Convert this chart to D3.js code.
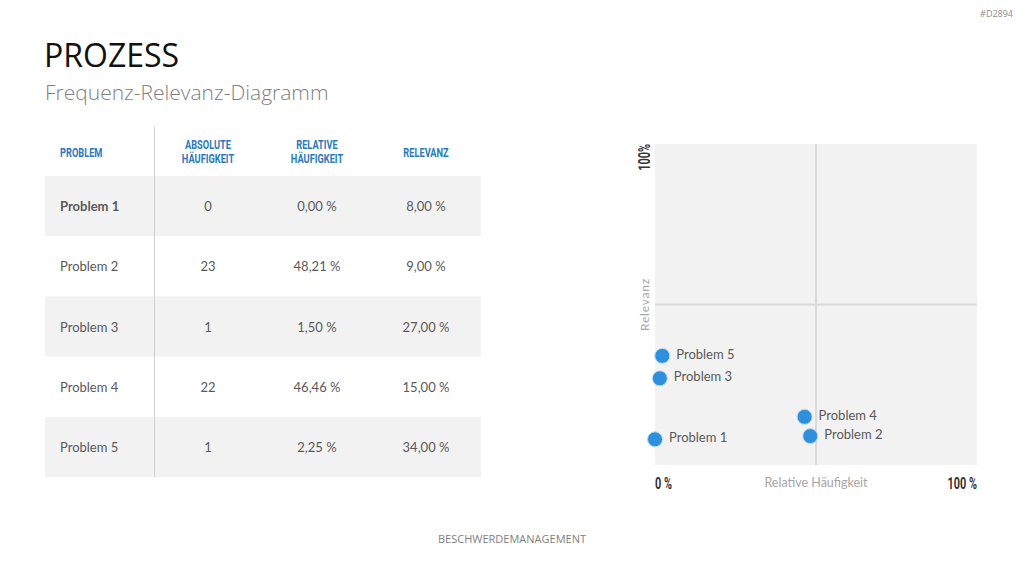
<!DOCTYPE html>
<html>
<head>
<meta charset="utf-8">
<script src="https://cdn.jsdelivr.net/npm/d3@7"></script>
<style>
  body { margin: 0; background: #fff; }
  svg { display: block; }
</style>
</head>
<body>
<script>
const [W, H] = [1024, 576];

// data
const problems = ['Problem 1', 'Problem 2', 'Problem 3', 'Problem 4', 'Problem 5'];
const absolute = [0, 23, 1, 22, 1];
const relative = [0.00, 48.21, 1.50, 46.46, 2.25];
const relevance = [8.00, 9.00, 27.00, 15.00, 34.00];
const headers = [['PROBLEM'], ['ABSOLUTE', 'HÄUFIGKEIT'], ['RELATIVE', 'HÄUFIGKEIT'], ['RELEVANZ']];

const fmtPct = v => v.toFixed(2).replace('.', ',') + ' %';
// no condensed font installed -> squeeze Roboto bold horizontally
const condensed = 'Roboto, "Liberation Sans", sans-serif';
const SQ = 0.68;
const body = '"Open Sans", "Noto Sans", sans-serif';
const small = 'Lato, "Open Sans", sans-serif';

const svg = d3.select('body').append('svg').attr('width', W).attr('height', H);

// header texts
svg.append('text').attr('x', 1013).attr('y', 17).attr('text-anchor', 'end')
    .style('font', '9px ' + body).style('fill', '#8c8c8c').text('#D2894');

svg.append('text').attr('x', 44).attr('y', 67)
    .style('font', '32px ' + body).style('fill', '#111').text('PROZESS');

svg.append('text').attr('x', 45).attr('y', 100)
    .style('font', '300 21px ' + body).style('fill', '#7f7f7f').text('Frequenz-Relevanz-Diagramm');

svg.append('text').attr('x', 512).attr('y', 543).attr('text-anchor', 'middle')
    .style('font', '11px ' + body).style('fill', '#7f7f7f').text('BESCHWERDEMANAGEMENT');

// table
const colX = d3.scaleOrdinal().domain([0, 1, 2, 3]).range([60, 208, 317, 426]);
const rowY = d3.scaleBand().domain(problems).range([176, 477]);
const table = svg.append('g');

table.selectAll('rect.row')
    .data(problems).enter()
    .filter((d, i) => i % 2 === 0)
    .append('rect')
    .attr('class', 'row')
    .attr('x', 45).attr('width', 436)
    .attr('y', d => rowY(d)).attr('height', rowY.bandwidth())
    .attr('fill', '#f2f2f2');

table.append('line')
    .attr('x1', 154.5).attr('x2', 154.5).attr('y1', 127).attr('y2', 477)
    .attr('stroke', '#cfcfcf').attr('stroke-width', 1);

const head = table.selectAll('text.head')
    .data(headers).enter()
    .append('text')
    .attr('class', 'head')
    .attr('text-anchor', (d, i) => i === 0 ? 'start' : 'middle')
    .attr('transform', (d, i) => 'translate(' + colX(i) + ',' + (d.length === 1 ? 157 : 148.5) + ') scale(0.74,1)')
    .style('font', 'bold 12.5px ' + condensed)
    .style('fill', '#2a78bf');
head.selectAll('tspan')
    .data(d => d).enter()
    .append('tspan')
    .attr('x', 0)
    .attr('dy', (d, i) => i === 0 ? 0 : 14.5)
    .text(d => d);

problems.forEach((p, i) => {
    const cells = [p, String(absolute[i]), fmtPct(relative[i]), fmtPct(relevance[i])];
    table.selectAll(null)
        .data(cells).enter()
        .append('text')
        .attr('x', (d, j) => colX(j))
        .attr('y', rowY(p) + rowY.bandwidth() / 2 + 5)
        .attr('text-anchor', (d, j) => j === 0 ? 'start' : 'middle')
        .style('font', (d, j) => (i === 0 && j === 0 ? 'bold ' : '') + '13px ' + small)
        .style('fill', '#595959')
        .text(d => d);
});

// scatter chart
const xScale = d3.scaleLinear().domain([0, 100]).range([655, 977]);
const yScale = d3.scaleLinear().domain([0, 100]).range([465, 144]);

const chart = svg.append('g');
chart.append('rect')
    .attr('x', xScale(0)).attr('y', yScale(100))
    .attr('width', xScale(100) - xScale(0)).attr('height', yScale(0) - yScale(100))
    .attr('fill', '#f2f2f2');

chart.append('line')
    .attr('x1', xScale(50)).attr('x2', xScale(50)).attr('y1', yScale(100)).attr('y2', yScale(0))
    .attr('stroke', '#d9d9d9').attr('stroke-width', 2);
chart.append('line')
    .attr('x1', xScale(0)).attr('x2', xScale(100)).attr('y1', yScale(50)).attr('y2', yScale(50))
    .attr('stroke', '#d9d9d9').attr('stroke-width', 2);

// axis labels
chart.append('text')
    .attr('transform', 'translate(' + 650 + ',' + yScale(100) + ') rotate(-90) scale(' + SQ + ',1)')
    .attr('text-anchor', 'end')
    .style('font', 'bold 16px ' + condensed).style('fill', '#333')
    .text('100%');
chart.append('text')
    .attr('transform', 'translate(' + 649 + ',' + yScale(50) + ') rotate(-90)')
    .attr('text-anchor', 'middle')
    .style('font', '12px ' + small).style('fill', '#a6a6a6').style('letter-spacing', '0.8px')
    .text('Relevanz');

chart.append('text')
    .attr('transform', 'translate(' + xScale(0) + ',489) scale(' + SQ + ',1)')
    .style('font', 'bold 16px ' + condensed).style('fill', '#333').text('0 %');
chart.append('text')
    .attr('transform', 'translate(' + xScale(100) + ',489) scale(' + SQ + ',1)')
    .attr('text-anchor', 'end')
    .style('font', 'bold 16px ' + condensed).style('fill', '#333').text('100 %');
chart.append('text').attr('x', xScale(50)).attr('y', 487).attr('text-anchor', 'middle')
    .style('font', '12.5px ' + small).style('fill', '#a6a6a6').text('Relative Häufigkeit');

// points
const pts = chart.selectAll('g.pt')
    .data(problems).enter()
    .append('g')
    .attr('class', 'pt')
    .attr('transform', (d, i) => 'translate(' + xScale(relative[i]) + ',' + yScale(relevance[i]) + ')');

pts.append('circle')
    .attr('r', 7.5)
    .attr('fill', '#2e8fdc')
    .attr('stroke', '#bcdcf5').attr('stroke-width', 1);

pts.append('text')
    .attr('x', 14).attr('y', 3)
    .style('font', '13px ' + small).style('fill', '#595959')
    .text(d => d);
</script>
</body>
</html>
